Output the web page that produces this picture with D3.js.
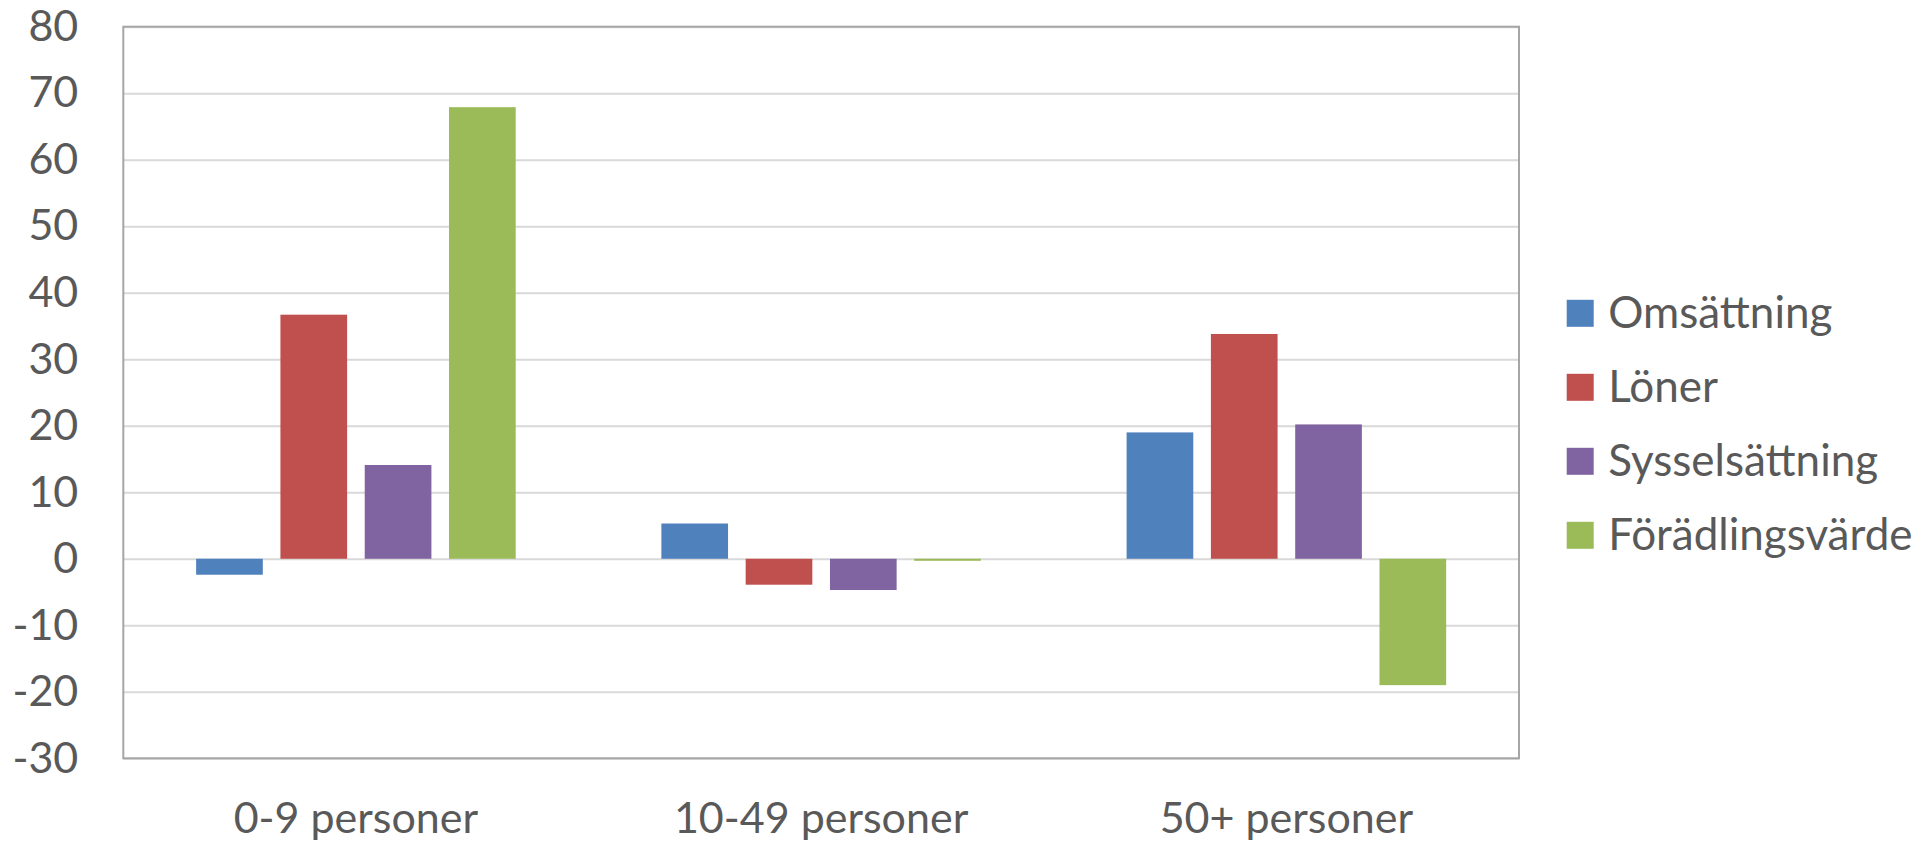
<!DOCTYPE html>
<html>
<head>
<meta charset="utf-8">
<script src="https://cdn.jsdelivr.net/npm/d3@7"></script>
<style>
  body { margin: 0; background: #fff; }
  text { font-family: Lato, "Open Sans", sans-serif; fill: #595959; }
</style>
</head>
<body>
<svg id="chart"></svg>
<script>
const categories = ["0-9 personer", "10-49 personer", "50+ personer"];
const seriesNames = ["Omsättning", "Löner", "Sysselsättning", "Förädlingsvärde"];
const omsattning = [-2.4, 5.3, 19.0];
const loner = [36.7, -3.9, 33.8];
const sysselsattning = [14.1, -4.7, 20.2];
const foradlingsvarde = [67.9, -0.3, -19.0];
const yTicks = [-30, -20, -10, 0, 10, 20, 30, 40, 50, 60, 70, 80];

const colors = ["#4F81BD", "#C0504D", "#8064A2", "#9BBB59"];
const seriesValues = [omsattning, loner, sysselsattning, foradlingsvarde];

const width = 1928;
const height = 843;
const plotLeft = 123.3;
const plotRight = 1519;
const plotTop = 26.7;
const plotBottom = 758.3;

const svg = d3.select("#chart").attr("width", width).attr("height", height);

const x0 = d3.scaleBand().domain(categories).range([plotLeft, plotRight]).padding(0);
const x1 = d3
  .scaleBand()
  .domain(seriesNames)
  .range([0, x0.bandwidth()])
  .paddingInner(0.209)
  .paddingOuter(0.864);
const y = d3.scaleLinear().domain([-30, 80]).range([plotBottom, plotTop]);

// gridlines
svg
  .append("g")
  .attr("transform", "translate(" + plotLeft + ",0)")
  .call(d3.axisLeft(y).tickValues(yTicks).tickSize(-(plotRight - plotLeft)).tickFormat(""))
  .call((g) => g.select(".domain").remove())
  .call((g) => g.selectAll("line").attr("stroke", "#D9D9D9").attr("stroke-width", 2));

// bars
const rows = [];
categories.forEach((c, i) => {
  seriesNames.forEach((s, j) => {
    rows.push({ cat: c, series: s, value: seriesValues[j][i], color: colors[j] });
  });
});

svg
  .append("g")
  .selectAll("rect")
  .data(rows)
  .enter()
  .append("rect")
  .attr("x", (d) => x0(d.cat) + x1(d.series))
  .attr("width", x1.bandwidth())
  .attr("y", (d) => y(Math.max(0, d.value)))
  .attr("height", (d) => Math.abs(y(d.value) - y(0)))
  .attr("fill", (d) => d.color);

// plot border
svg
  .append("rect")
  .attr("x", plotLeft)
  .attr("y", plotTop)
  .attr("width", plotRight - plotLeft)
  .attr("height", plotBottom - plotTop)
  .attr("fill", "none")
  .attr("stroke", "#A6A6A6")
  .attr("stroke-width", 2);

// y axis labels (plain hyphen for negatives, like the original)
svg
  .append("g")
  .attr("transform", "translate(" + plotLeft + ",0)")
  .call(
    d3
      .axisLeft(y)
      .tickValues(yTicks)
      .tickSize(0)
      .tickPadding(45)
      .tickFormat((d) => String(d))
  )
  .call((g) => g.select(".domain").remove())
  .call((g) =>
    g.selectAll("text").style("font-size", "43px").style("fill", "#595959").attr("font-family", null)
  );

// x axis labels
svg
  .append("g")
  .attr("transform", "translate(0," + plotBottom + ")")
  .call(d3.axisBottom(x0).tickSize(0))
  .call((g) => g.select(".domain").remove())
  .call((g) =>
    g
      .selectAll("text")
      .attr("y", 74.7)
      .attr("dy", 0)
      .style("font-size", "43px")
      .style("fill", "#595959")
      .attr("font-family", null)
  );

// legend
const legend = svg
  .append("g")
  .selectAll("g")
  .data(seriesNames)
  .enter()
  .append("g")
  .attr("transform", (d, i) => "translate(1566.7," + (313.3 + i * 74) + ")");

legend
  .append("rect")
  .attr("x", 0)
  .attr("y", -13.5)
  .attr("width", 27)
  .attr("height", 27)
  .attr("fill", (d, i) => colors[i]);

legend
  .append("text")
  .attr("x", 41.5)
  .attr("y", 15)
  .style("font-size", "44px")
  .text((d) => d);
</script>
</body>
</html>
